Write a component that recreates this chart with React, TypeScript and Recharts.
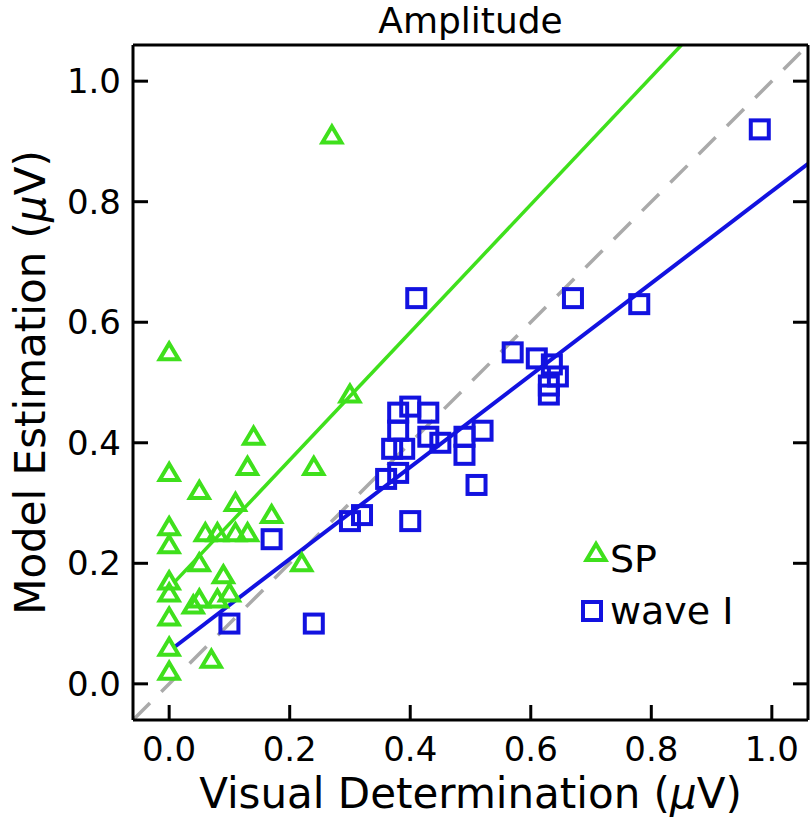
import {
  Label,
  Legend,
  ReferenceLine,
  Scatter,
  ScatterChart,
  XAxis,
  YAxis,
} from "recharts";

// SP (triangles)
const spX = [
  0.27, 0.0, 0.3, 0.14, 0.13, 0.24, 0.0, 0.05, 0.11, 0.17, 0.0, 0.06, 0.08,
  0.11, 0.13, 0.0, 0.05, 0.22, 0.09, 0.0, 0.0, 0.05, 0.04, 0.08, 0.1, 0.0, 0.0,
  0.07, 0.0,
];
const spY = [
  0.91, 0.55, 0.48, 0.41, 0.36, 0.36, 0.35, 0.32, 0.3, 0.28, 0.26, 0.25, 0.25,
  0.25, 0.25, 0.23, 0.2, 0.2, 0.18, 0.17, 0.15, 0.14, 0.13, 0.14, 0.15, 0.11,
  0.06, 0.04, 0.02,
];

// wave I (squares)
const waveX = [
  0.98, 0.78, 0.67, 0.41, 0.57, 0.61, 0.635, 0.645, 0.63, 0.63, 0.38, 0.4,
  0.43, 0.38, 0.43, 0.45, 0.37, 0.39, 0.49, 0.52, 0.49, 0.38, 0.36, 0.51, 0.32,
  0.3, 0.4, 0.17, 0.1, 0.24,
];
const waveY = [
  0.92, 0.63, 0.64, 0.64, 0.55, 0.54, 0.53, 0.51, 0.495, 0.48, 0.45, 0.46,
  0.45, 0.42, 0.41, 0.4, 0.39, 0.39, 0.41, 0.42, 0.38, 0.35, 0.34, 0.33, 0.28,
  0.27, 0.27, 0.24, 0.1, 0.1,
];

// fitted lines, end points
const spFit = [
  { x: 0.01, y: 0.17 },
  { x: 0.85, y: 1.06 },
];
const waveFit = [
  { x: 0.01, y: 0.062 },
  { x: 1.06, y: 0.863 },
];
const identity = [
  { x: -0.06, y: -0.06 },
  { x: 1.06, y: 1.06 },
];

const DOMAIN: [number, number] = [-0.06, 1.06];
const TICKS = [0, 0.2, 0.4, 0.6, 0.8, 1.0];

const spData = spX.map((x, i) => ({ x, y: spY[i] }));
const waveData = waveX.map((x, i) => ({ x, y: waveY[i] }));

const GREEN = "#3fe01c";
const BLUE = "#1212e0";
const FONT = "'DejaVu Sans', sans-serif";
const TICK_LEN = 15;

function Triangle({ cx, cy }: any) {
  const pts = `${cx},${cy - 9} ${cx - 9.5},${cy + 7} ${cx + 9.5},${cy + 7}`;
  return <polygon points={pts} fill="none" stroke={GREEN} strokeWidth={4} />;
}

function Square({ cx, cy }: any) {
  return (
    <rect
      x={cx - 9}
      y={cy - 9}
      width={18}
      height={18}
      fill="none"
      stroke={BLUE}
      strokeWidth={4}
    />
  );
}

function BottomTick({ x, y, payload }: any) {
  return (
    <g>
      <line x1={x} y1={y} x2={x} y2={y - TICK_LEN} stroke="#000" strokeWidth={3} />
      <text x={x} y={y + 41} textAnchor="middle" fontSize={34} fontFamily={FONT} fill="#000">
        {payload.value.toFixed(1)}
      </text>
    </g>
  );
}

function TopTick({ x, y }: any) {
  return <line x1={x} y1={y} x2={x} y2={y + TICK_LEN} stroke="#000" strokeWidth={3} />;
}

function LeftTick({ x, y, payload }: any) {
  return (
    <g>
      <line x1={x} y1={y} x2={x + TICK_LEN} y2={y} stroke="#000" strokeWidth={3} />
      <text x={x - 12} y={y + 12} textAnchor="end" fontSize={34} fontFamily={FONT} fill="#000">
        {payload.value.toFixed(1)}
      </text>
    </g>
  );
}

function RightTick({ x, y }: any) {
  return <line x1={x} y1={y} x2={x - TICK_LEN} y2={y} stroke="#000" strokeWidth={3} />;
}

function LegendBox() {
  return (
    <svg width={220} height={110}>
      <polygon points="22,14 12.5,30 31.5,30" fill="none" stroke={GREEN} strokeWidth={4} />
      <text x={36} y={42} fontSize={38} fontFamily={FONT} fill="#000">
        SP
      </text>
      <rect x={9} y={72} width={18} height={18} fill="none" stroke={BLUE} strokeWidth={4} />
      <text x={36} y={94} fontSize={38} fontFamily={FONT} fill="#000">
        wave I
      </text>
    </svg>
  );
}

export default function App() {
  const axisLine = { stroke: "#000", strokeWidth: 3 };
  return (
    <div style={{ position: "absolute", left: 0, top: 0, background: "#fff" }}>
      <ScatterChart
        width={810}
        height={825}
        margin={{ top: 44, right: 1, bottom: 104, left: 132 }}
      >
        <XAxis
          xAxisId="b"
          dataKey="x"
          type="number"
          domain={DOMAIN}
          allowDataOverflow
          ticks={TICKS}
          interval={0}
          height={1}
          tickSize={0}
          tickMargin={0}
          tickLine={false}
          axisLine={axisLine}
          tick={<BottomTick />}
        >
          <Label
            content={() => (
              <text x={470.5} y={808} textAnchor="middle" fontSize={42} fontFamily={FONT} fill="#000">
                Visual Determination (<tspan fontStyle="italic">μ</tspan>V)
              </text>
            )}
          />
        </XAxis>
        <XAxis
          xAxisId="t"
          orientation="top"
          type="number"
          domain={DOMAIN}
          allowDataOverflow
          ticks={TICKS}
          interval={0}
          height={1}
          tickSize={0}
          tickMargin={0}
          tickLine={false}
          axisLine={axisLine}
          tick={<TopTick />}
        >
          <Label
            content={() => (
              <text x={470.5} y={33} textAnchor="middle" fontSize={36} fontFamily={FONT} fill="#000">
                Amplitude
              </text>
            )}
          />
        </XAxis>
        <YAxis
          yAxisId="l"
          dataKey="y"
          type="number"
          domain={DOMAIN}
          allowDataOverflow
          ticks={TICKS}
          interval={0}
          width={1}
          tickSize={0}
          tickMargin={0}
          tickLine={false}
          axisLine={axisLine}
          tick={<LeftTick />}
        >
          <Label
            content={() => (
              <text
                x={45}
                y={382.5}
                transform="rotate(-90, 45, 382.5)"
                textAnchor="middle"
                fontSize={42}
                fontFamily={FONT}
                fill="#000"
              >
                Model Estimation (<tspan fontStyle="italic">μ</tspan>V)
              </text>
            )}
          />
        </YAxis>
        <YAxis
          yAxisId="r"
          orientation="right"
          type="number"
          domain={DOMAIN}
          allowDataOverflow
          ticks={TICKS}
          interval={0}
          width={1}
          tickSize={0}
          tickMargin={0}
          tickLine={false}
          axisLine={axisLine}
          tick={<RightTick />}
        />

        <ReferenceLine
          xAxisId="b"
          yAxisId="l"
          segment={identity}
          ifOverflow="hidden"
          stroke="#aaaaaa"
          strokeWidth={3.5}
          strokeDasharray="24 16"
        />
        <ReferenceLine
          xAxisId="b"
          yAxisId="l"
          segment={spFit}
          ifOverflow="hidden"
          stroke={GREEN}
          strokeWidth={3.5}
        />
        <ReferenceLine
          xAxisId="b"
          yAxisId="l"
          segment={waveFit}
          ifOverflow="hidden"
          stroke={BLUE}
          strokeWidth={4}
        />

        <Scatter
          name="SP"
          data={spData}
          xAxisId="b"
          yAxisId="l"
          shape={Triangle}
          isAnimationActive={false}
        />
        <Scatter
          name="wave I"
          data={waveData}
          xAxisId="b"
          yAxisId="l"
          shape={Square}
          isAnimationActive={false}
        />

        <Legend
          layout="horizontal"
          verticalAlign="middle"
          align="center"
          wrapperStyle={{ position: "absolute", left: 574, top: 530, width: 220, height: 110 }}
          content={() => <LegendBox />}
        />
      </ScatterChart>
    </div>
  );
}
